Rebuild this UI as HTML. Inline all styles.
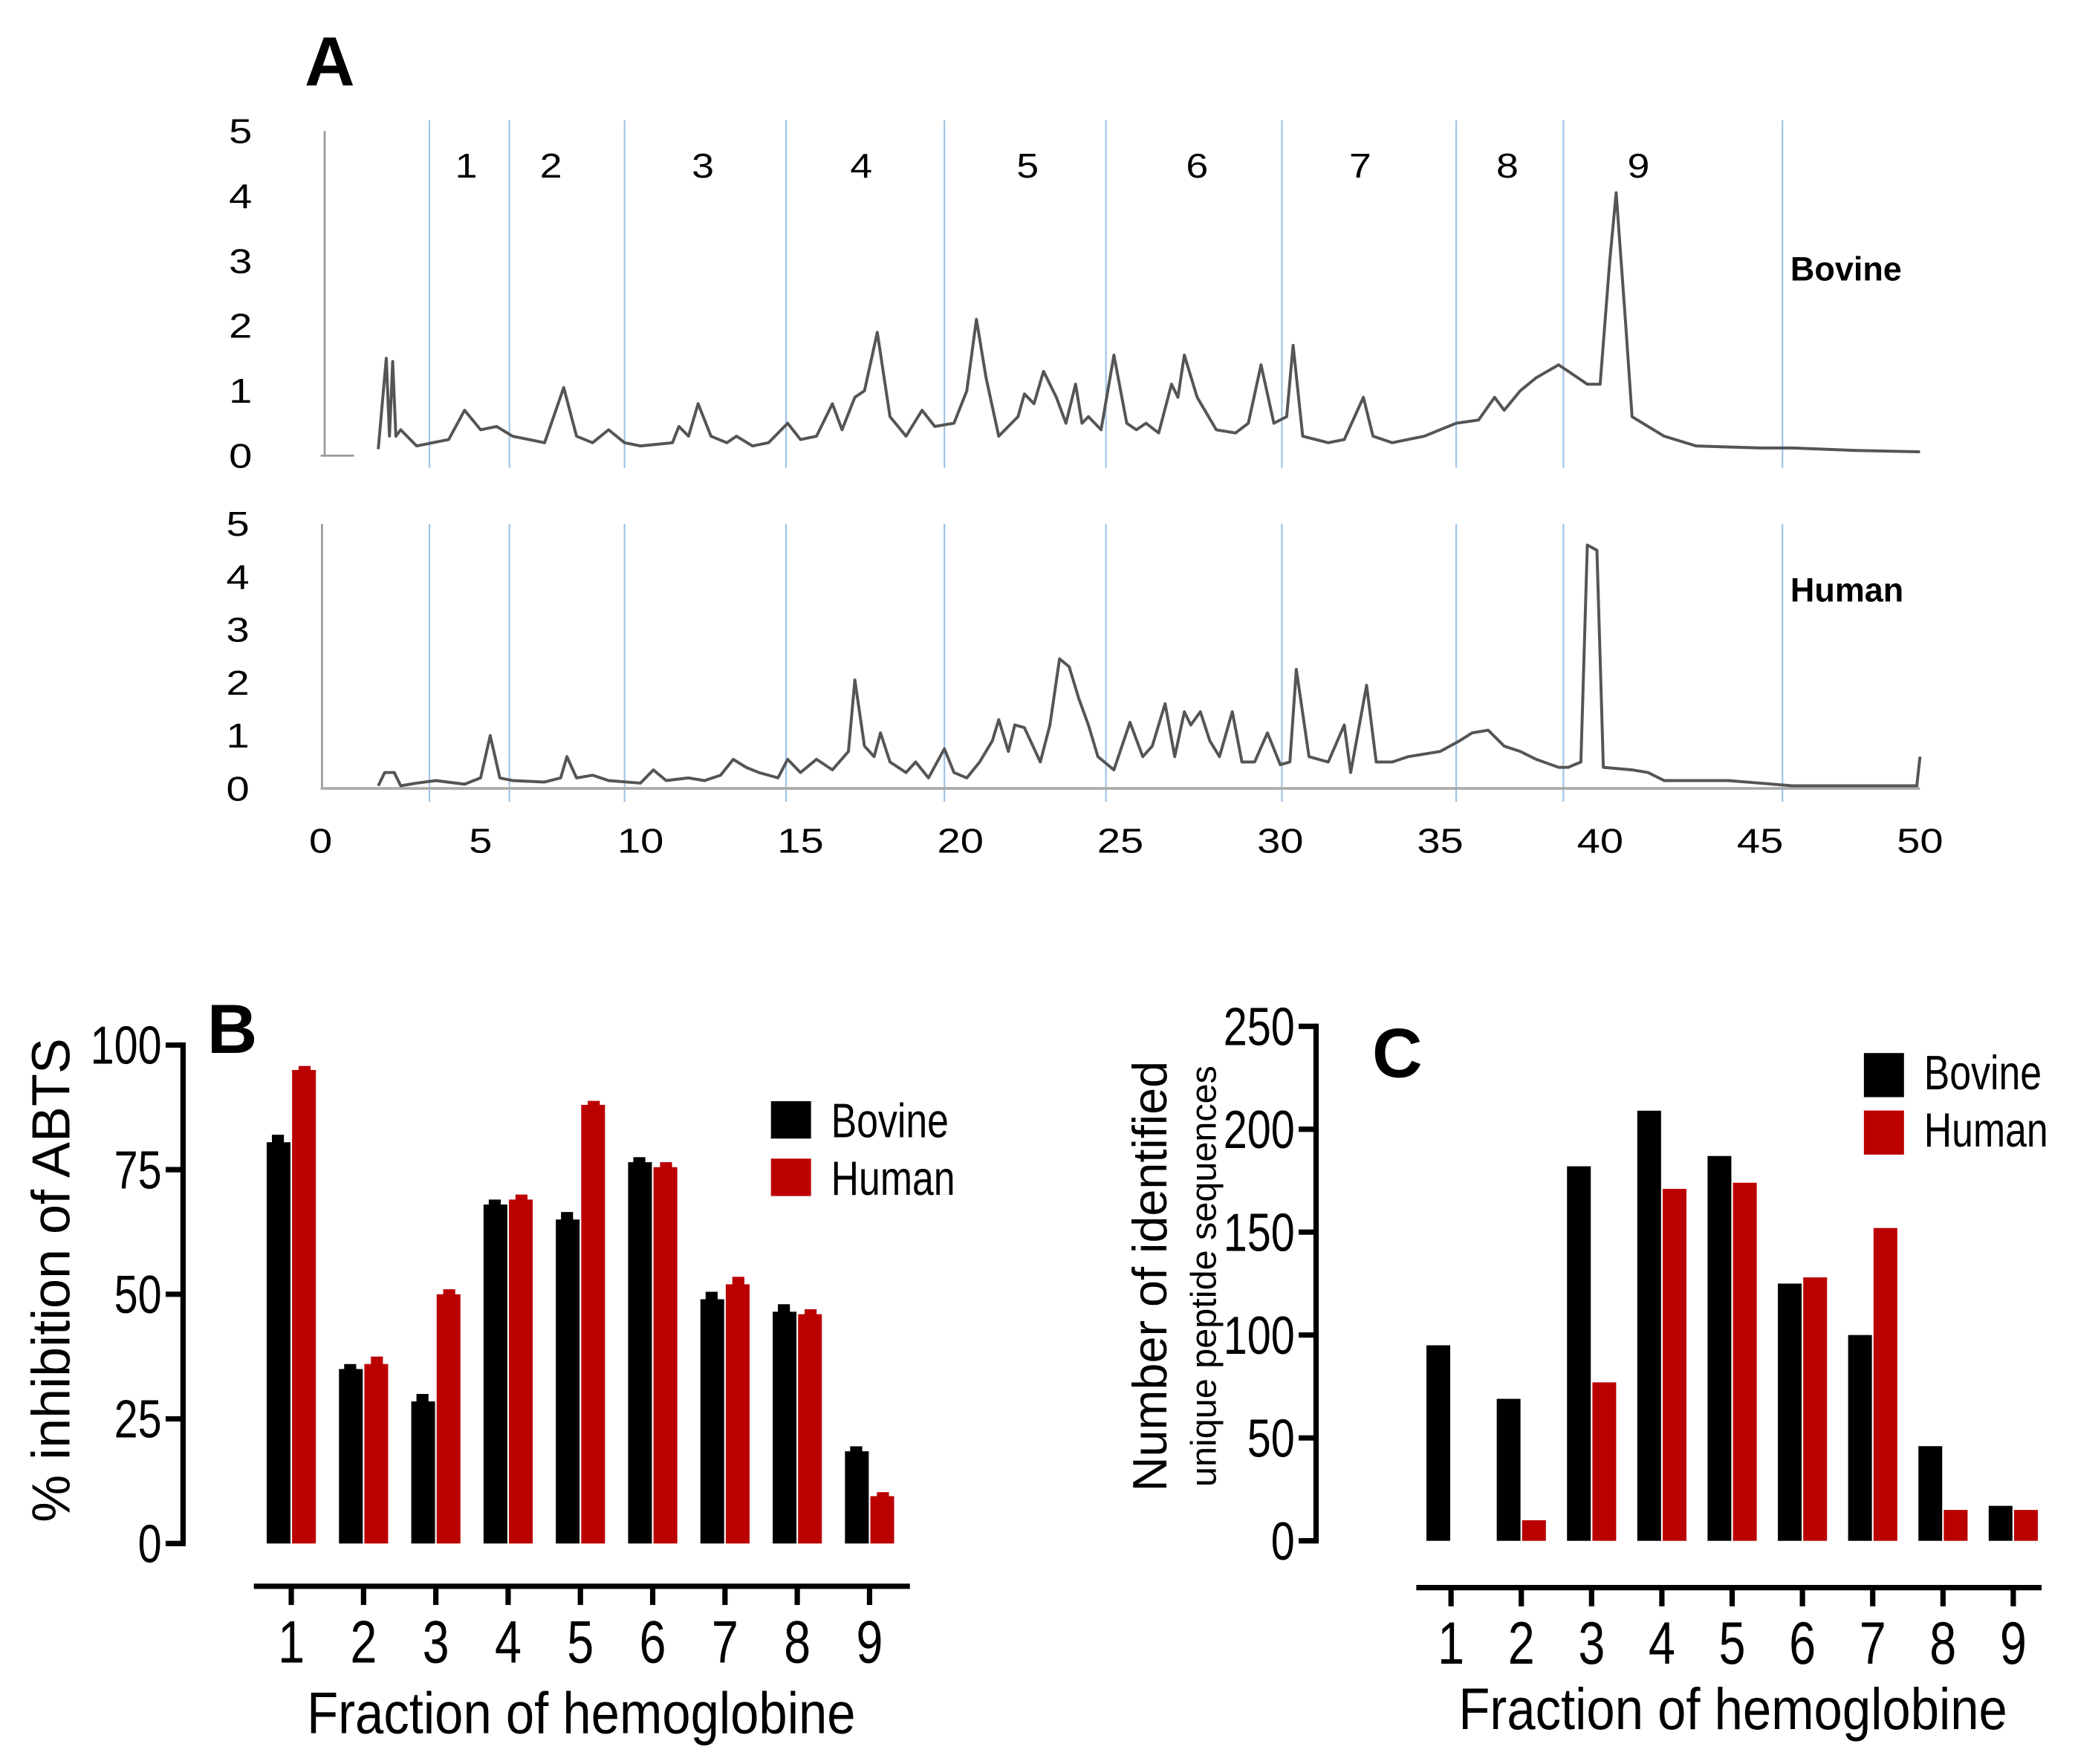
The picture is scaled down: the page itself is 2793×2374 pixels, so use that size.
<!DOCTYPE html>
<html><head><meta charset="utf-8"><style>
html,body{margin:0;padding:0;background:#fff;}
svg{display:block;}
text{font-family:"Liberation Sans",sans-serif;}
</style></head><body>
<svg id="fig" width="2793" height="2374" viewBox="0 0 1553 1320" preserveAspectRatio="none" xmlns="http://www.w3.org/2000/svg">
<text x="228" y="64" font-size="52" font-weight="bold">A</text>
<text x="1340" y="210" font-size="25" font-weight="bold">Bovine</text>
<text x="1340" y="450" font-size="25" font-weight="bold">Human</text>
<text x="155" y="788" font-size="52" font-weight="bold">B</text>
<text x="1027" y="806" font-size="52" font-weight="bold">C</text>
<g id="gA"></g>
<g id="gB"></g>
<g id="gC"></g>
</svg>
<script>
// ---- Panel A data ----
const aXTicks=[0,5,10,15,20,25,30,35,40,45,50];
const aYTicks=[0,1,2,3,4,5];
const fractionBounds=[3.4,5.9,9.5,14.55,19.5,24.55,30.05,35.5,38.85,45.7];
const fractionLabels=["1","2","3","4","5","6","7","8","9"];
const fractionLabelTimes=[4.55,7.2,11.95,16.9,22.1,27.4,32.5,37.1,41.2];
const bovineT=[1.8,2.05,2.15,2.25,2.35,2.5,3,3.5,4,4.5,5,5.5,6,7,7.6,8,8.5,9,9.5,10,11,11.2,11.5,11.8,12.2,12.7,13,13.5,14,14.6,15,15.5,16,16.3,16.7,17,17.4,17.8,18.3,18.8,19.2,19.8,20.2,20.5,20.8,21.2,21.8,22,22.3,22.6,23,23.3,23.6,23.8,24,24.4,24.8,25.2,25.5,25.8,26.2,26.6,26.8,27,27.4,28,28.6,29,29.4,29.8,30.2,30.4,30.7,31.5,32,32.6,32.9,33.5,34.5,35.5,36.2,36.7,37,37.5,38,38.7,39,39.6,40,40.3,40.5,40.8,41,41.5,42,43,45,46,48,50];
const bovineV=[0.1,1.5,0.3,1.45,0.3,0.4,0.15,0.2,0.25,0.7,0.4,0.45,0.3,0.2,1.05,0.3,0.2,0.4,0.2,0.15,0.2,0.45,0.3,0.8,0.3,0.2,0.3,0.15,0.2,0.5,0.25,0.3,0.8,0.4,0.9,1.0,1.9,0.6,0.3,0.7,0.45,0.5,1.0,2.1,1.2,0.3,0.6,0.95,0.8,1.3,0.9,0.5,1.1,0.5,0.6,0.4,1.55,0.5,0.4,0.5,0.35,1.1,0.9,1.55,0.9,0.4,0.35,0.5,1.4,0.5,0.6,1.7,0.3,0.2,0.25,0.9,0.3,0.2,0.3,0.5,0.55,0.9,0.7,1.0,1.2,1.4,1.3,1.1,1.1,3.0,4.05,2.0,0.6,0.45,0.3,0.15,0.12,0.12,0.08,0.06];
const humanT=[1.8,2,2.3,2.5,3,3.6,4.5,5,5.3,5.6,6,7,7.5,7.7,8,8.5,9,10,10.4,10.8,11.5,12,12.5,12.9,13.3,13.7,14.3,14.6,15,15.5,16,16.5,16.7,17,17.3,17.5,17.8,18.3,18.6,19,19.5,19.8,20.2,20.6,21,21.2,21.5,21.7,22,22.5,22.8,23.1,23.4,23.7,24,24.3,24.8,25.3,25.7,26,26.4,26.7,27,27.2,27.5,27.8,28.1,28.5,28.8,29.2,29.6,30,30.3,30.5,30.9,31.5,32,32.2,32.7,33,33.5,34,35,35.6,36,36.5,37,37.5,38,38.7,39,39.4,39.6,39.9,40.1,41,41.5,42,44,45,46,49.9,50];
const humanV=[0.05,0.3,0.3,0.05,0.1,0.15,0.08,0.2,1.0,0.2,0.15,0.12,0.2,0.6,0.2,0.25,0.15,0.1,0.35,0.15,0.2,0.15,0.25,0.55,0.4,0.3,0.2,0.55,0.3,0.55,0.35,0.7,2.05,0.8,0.6,1.05,0.5,0.3,0.5,0.2,0.75,0.3,0.2,0.5,0.9,1.3,0.7,1.2,1.15,0.5,1.2,2.45,2.3,1.7,1.2,0.6,0.35,1.25,0.6,0.8,1.6,0.6,1.45,1.2,1.45,0.9,0.6,1.45,0.5,0.5,1.05,0.45,0.5,2.25,0.6,0.5,1.2,0.3,1.95,0.5,0.5,0.6,0.7,0.9,1.05,1.1,0.8,0.7,0.55,0.4,0.4,0.5,4.6,4.5,0.4,0.35,0.3,0.15,0.15,0.1,0.05,0.05,0.6];

// ---- Panel B data ----
const fractions=["1","2","3","4","5","6","7","8","9"];
const bTicks=[0,25,50,75,100];
const bBovine=[80.5,35,28.5,68,65,76.5,49,46.5,18.5];
const bHuman=[95,36,50,69,88,75.5,52,46,9.5];
const bBovineErr=[1.5,1,1.5,1,1.5,1,1.5,1.5,1];
const bHumanErr=[0.8,1.5,1,1,0.8,1,1.5,1,0.8];
// ---- Panel C data ----
const cTicks=[0,50,100,150,200,250];
const cBovine=[95,69,182,209,187,125,100,46,17];
const cHuman=[0,10,77,171,174,128,152,15,15];

const NS="http://www.w3.org/2000/svg";
function mk(parent,tag,attrs,txt){const e=document.createElementNS(NS,tag);for(const k in attrs)e.setAttribute(k,attrs[k]);if(txt!==undefined)e.textContent=txt;parent.appendChild(e);return e;}
function stxt(parent,x,y,size,anchor,sx,s,rot){
  const tr='translate('+x+','+y+')'+(rot?' rotate('+rot+')':'')+' scale('+sx+',1)';
  return mk(parent,'text',{x:0,y:0,'font-size':size,'text-anchor':anchor,transform:tr},s);
}

// Panel A
const gA=document.getElementById('gA');
const ax=t=>240+t*(1437-240)/50;
const ayTop=v=>341-v*(341-98)/5;
const ayBot=v=>590-v*(590-392)/5;
fractionBounds.forEach(t=>{
  const l=mk(gA,'line',{x1:ax(t),x2:ax(t),y1:90,y2:350,stroke:'#9dc3e6','stroke-width':1.2});
  
  
  const l2=mk(gA,'line',{x1:ax(t),x2:ax(t),y1:392,y2:600,stroke:'#9dc3e6','stroke-width':1.2});
  
  
});
fractionLabels.forEach((s,i)=>{
  const t=stxt(gA,ax(fractionLabelTimes[i]),133,26,'middle',1.15,s);
  
  
});
let e=mk(gA,'line',{x1:243,x2:243,y1:98,y2:341,stroke:'#999','stroke-width':1.5});

e=mk(gA,'line',{x1:240,x2:265,y1:341,y2:341,stroke:'#999','stroke-width':1.5});

e=mk(gA,'line',{x1:241,x2:241,y1:392,y2:590,stroke:'#999','stroke-width':1.5});

e=mk(gA,'line',{x1:240,x2:1437,y1:590,y2:590,stroke:'#aaa','stroke-width':2});

aYTicks.forEach(v=>{
  let t=stxt(gA,180,ayTop(v)+9,26,'middle',1.2,String(v));
  
  t=stxt(gA,178,ayBot(v)+9,26,'middle',1.2,String(v));
  
});
aXTicks.forEach(v=>{
  const t=stxt(gA,ax(v),638,26,'middle',1.2,String(v));
  
});
function trace(T,V,fy,name){
  const d=T.map((t,i)=>(i?'L':'M')+ax(t).toFixed(1)+','+fy(V[i]).toFixed(1)).join('');
  const p=mk(gA,'path',{d:d,fill:'none',stroke:'#555','stroke-width':2.2,'stroke-linejoin':'round'});
  
  
}
trace(bovineT,bovineV,ayTop,'bovine-trace');
trace(humanT,humanV,ayBot,'human-trace');

// Bar chart builder
function barChart(g,o){
  const y=v=>o.y0-v*(o.y0-o.yTop)/o.max;
  let l=mk(g,'line',{x1:o.axX,x2:o.axX,y1:y(o.max)-2,y2:o.y0+2,stroke:'#000','stroke-width':4});
  
  o.ticks.forEach(v=>{
    const tk=mk(g,'line',{x1:o.axX-13,x2:o.axX,y1:y(v),y2:y(v),stroke:'#000','stroke-width':4});
    
    const t=stxt(g,o.axX-16,y(v)+14,40,'end',0.8,String(v));
    
  });
  l=mk(g,'line',{x1:o.xl,x2:o.xr,y1:o.xAxisY,y2:o.xAxisY,stroke:'#000','stroke-width':4});
  
  fractions.forEach((f,i)=>{
    const cx=o.cx0+i*o.step;
    const tk=mk(g,'line',{x1:cx,x2:cx,y1:o.xAxisY,y2:o.xAxisY+14,stroke:'#000','stroke-width':4});
    
    const t=stxt(g,cx,o.xAxisY+57,45,'middle',0.8,f);
    
    const bw=17.8;
    const b1=mk(g,'rect',{x:cx-bw-0.6,y:y(o.bov[i]),width:bw,height:o.y0-y(o.bov[i]),fill:'#000'});
    
    const b2=mk(g,'rect',{x:cx+0.6,y:y(o.hum[i]),width:bw,height:o.y0-y(o.hum[i]),fill:'#bb0000'});
    
    if(o.bErr){
      const c1=mk(g,'rect',{x:cx-bw/2-5-0.6,y:y(o.bov[i]+o.bErr[i]),width:9,height:y(o.bov[i])-y(o.bov[i]+o.bErr[i])+1,fill:'#000'});
      
      const c2=mk(g,'rect',{x:cx+bw/2-4+0.6,y:y(o.hum[i]+o.hErr[i]),width:9,height:y(o.hum[i])-y(o.hum[i]+o.hErr[i])+1,fill:'#bb0000'});
      
    }
  });
  const lg=[['#000','Bovine',o.legY],['#bb0000','Human',o.legY+43]];
  lg.forEach(([c,s,ly])=>{
    const r=mk(g,'rect',{x:o.legX,y:ly-14,width:30,height:o.legH,fill:c});
    
    const t=stxt(g,o.legX+45,ly+13,36,'start',0.8,s);
    
  });
  const xt=stxt(g,o.xTitleX,o.xTitleY,44,'middle',0.87,'Fraction of hemoglobine');
  
}
const gB=document.getElementById('gB');
barChart(gB,{y0:1155,yTop:782,max:100,ticks:bTicks,axX:137,xl:190,xr:681,xAxisY:1187,cx0:218,step:54.1,bov:bBovine,hum:bHuman,bErr:bBovineErr,hErr:bHumanErr,legX:577,legY:838,legH:28,xTitleX:435,xTitleY:1297});
let yt=stxt(gB,52,958,40,'middle',1,'% inhibition of ABTS',-90);


const gC=document.getElementById('gC');
barChart(gC,{y0:1153,yTop:768,max:250,ticks:cTicks,axX:985,xl:1060,xr:1528,xAxisY:1188,cx0:1086,step:52.6,bov:cBovine,hum:cHuman,legX:1395,legY:802,legH:33,xTitleX:1297,xTitleY:1294});
yt=stxt(gC,873,955,36,'middle',1,'Number of identified',-90);

yt=stxt(gC,910,955,27,'middle',1,'unique peptide sequences',-90);

</script>
</body></html>
